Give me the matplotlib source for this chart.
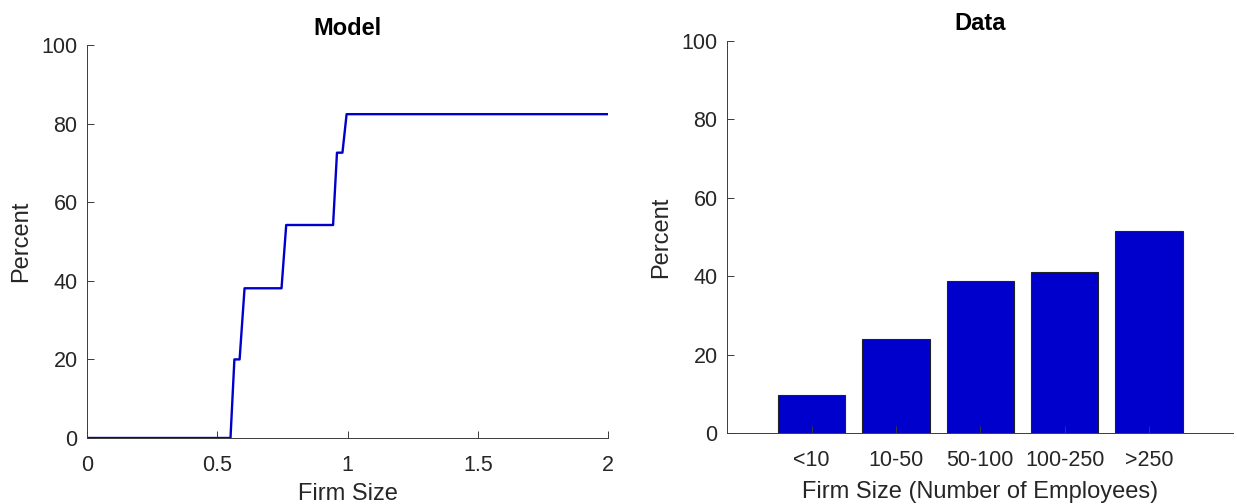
import numpy as np
import matplotlib
matplotlib.use("Agg")
import matplotlib.pyplot as plt

# --------------------------
# data
# --------------------------
# model: step curve (firm size, percent)
model_x = [0.0, 0.55, 0.565, 0.585, 0.604, 0.746, 0.764, 0.944, 0.959, 0.980, 0.996, 2.0]
model_y = [0.0, 0.0, 20.0, 20.0, 38.1, 38.1, 54.2, 54.2, 72.6, 72.6, 82.4, 82.4]

# data: bars by size class
size_labels = ["<10", "10-50", "50-100", "100-250", ">250"]
size_pct = [9.7, 24.0, 38.7, 41.1, 51.5]

blue = "#0000cc"
axis_col = "#262626"

plt.rcParams["font.family"] = ["Liberation Sans", "DejaVu Sans"]

W, H = 1237, 504
fig = plt.figure(figsize=(W / 100, H / 100), dpi=100)

TICK_FS = 15.5
LABEL_FS = 17
TITLE_FS = 17


def style(ax):
    for s in ["top", "right"]:
        ax.spines[s].set_visible(False)
    for s in ["left", "bottom"]:
        ax.spines[s].set_color("#3a3a3a")
        ax.spines[s].set_linewidth(0.7)
    ax.tick_params(direction="in", length=5, width=0.7, color="#3a3a3a",
                   labelcolor=axis_col, labelsize=TICK_FS)
    ax.tick_params(axis="x", pad=12)
    ax.tick_params(axis="y", pad=7)
    ax.yaxis.label.set_color(axis_col)
    ax.xaxis.label.set_color(axis_col)


# left: model
ax1 = fig.add_axes([87.3 / W, 1 - 438 / H, 520.7 / W, 393 / H])
ax1.plot(model_x, model_y, color=blue, lw=1.7)
ax1.set_xlim(0, 2)
ax1.set_ylim(0, 100)
ax1.set_xticks([0, 0.5, 1, 1.5, 2])
ax1.set_xticklabels(["0", "0.5", "1", "1.5", "2"])
ax1.set_yticks(range(0, 101, 20))
# the reference crops this label at the bottom edge; keep it just inside
ax1.set_xlabel("Firm Size", fontsize=LABEL_FS, labelpad=5.5)
ax1.set_ylabel("Percent", fontsize=LABEL_FS, labelpad=6.5)
ax1.set_title("Model", fontsize=TITLE_FS, fontweight="bold", pad=7)
style(ax1)

# right: data
ax2 = fig.add_axes([727.3 / W, 1 - 433.3 / H, 506 / W, 392.6 / H])
pos = np.arange(1, len(size_labels) + 1)
ax2.bar(pos, size_pct, width=0.8, color=blue, edgecolor="#222222", linewidth=0.8)
ax2.set_xlim(0, 6)
ax2.set_ylim(0, 100)
ax2.set_xticks(pos)
ax2.set_xticklabels(size_labels)
ax2.set_yticks(range(0, 101, 20))
ax2.set_xlabel("Firm Size (Number of Employees)", fontsize=LABEL_FS, labelpad=7.5)
ax2.set_ylabel("Percent", fontsize=LABEL_FS, labelpad=6.5)
ax2.set_title("Data", fontsize=TITLE_FS, fontweight="bold", pad=8)
style(ax2)
ax2.set_axisbelow(False)

fig.savefig("out.png", dpi=100)
